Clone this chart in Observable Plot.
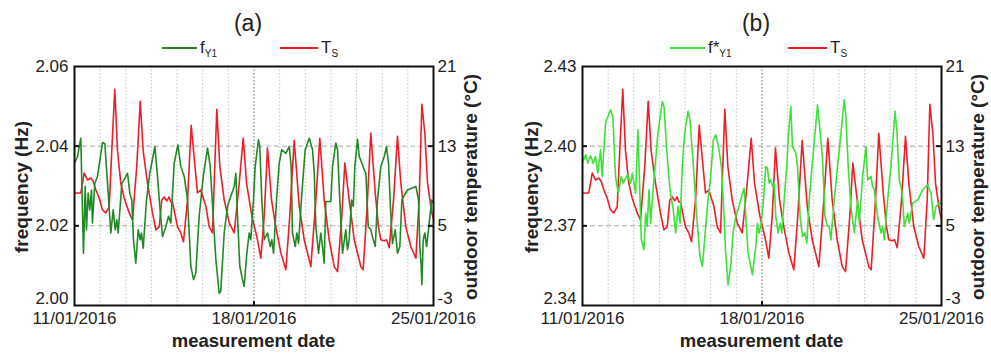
<!DOCTYPE html>
<html><head><meta charset="utf-8">
<script src="https://cdn.jsdelivr.net/npm/d3@7"></script>
<script src="https://cdn.jsdelivr.net/npm/@observablehq/plot@0.6"></script>
<style>
body{margin:0;background:#fff;font-family:"Liberation Sans",Arial,sans-serif;color:#222;}
#wrap{position:relative;width:991px;height:355px;overflow:hidden;background:#fff;}
.panel{position:absolute;top:0;height:355px;}
.ov{position:absolute;white-space:nowrap;line-height:1;}
.title{font-size:23px;transform:translate(-50%,-50%);}
.axt{font-size:18.5px;font-weight:bold;transform:translate(-50%,-50%);}
.axv{font-size:19px;font-weight:bold;transform:translate(-50%,-50%) rotate(-90deg);}
.lgl{position:absolute;height:2px;}
.lgt{position:absolute;font-size:17px;line-height:20px;white-space:nowrap;}
.lgt sub{font-size:10px;vertical-align:-4px;}
</style></head>
<body><div id="wrap"></div>
<script>
// ---------- data ----------
const xTickLabels = ["11/01/2016", "18/01/2016", "25/01/2016"];
const tempTicks = [-3, 5, 13, 21];
const freqTicksA = [2.00, 2.02, 2.04, 2.06];
const freqTicksB = [2.34, 2.37, 2.40, 2.43];

// [hours since 11/01/2016 00:00, outdoor temperature °C]
const tempTS = [[0,8.3],[5.9,8.3],[9.1,10.3],[12.2,9.6],[15.3,9.8],[17.5,9.45],[20,8.6],[23.1,7.8],[26.2,6.6],[29.3,6.3],[32.5,6.9],[34.9,12.6],[37.7,18.7],[40.2,12.6],[43.3,9.3],[46.5,7.8],[51.2,6.3],[54.3,5.6],[58.3,11],[61.5,17.5],[64.3,12.5],[68.3,9.3],[73,6.3],[76.1,4.6],[79.3,4.9],[81.7,7.6],[84,7.9],[86.4,7.5],[88.6,7.9],[90.1,7.4],[91.7,7.4],[96.4,4.9],[99.5,4.3],[102,3.4],[105.8,7.6],[109.2,15.1],[115.1,8.3],[118.2,8.6],[122.9,7],[126.1,4.9],[129.2,4.3],[131.3,11],[133.2,16.7],[136,11],[140.1,7.6],[144.8,5.3],[149.5,4.3],[154.2,9.3],[157.9,13.8],[161,9.3],[166,6],[171.3,3.6],[174.4,1.75],[177.6,6],[180.6,12.8],[184.4,7.6],[188.4,4.9],[193.1,2.3],[197.8,0.6],[201.5,6],[205.6,13.6],[210.3,7],[215,3.6],[221.2,0.9],[225.9,7.6],[229.6,13.8],[233.7,7.6],[238.4,3.6],[243.1,0.9],[246.2,0.4],[250.2,6],[253,11.3],[257.1,7.6],[261.8,3.6],[268,0.9],[270.2,0.6],[274.2,7.6],[277.3,14.3],[281.5,8.3],[284.5,4.9],[286.7,3.6],[289.9,3.5],[292,3.6],[294.6,2.8],[298.6,7.6],[302.3,14],[305.4,9.3],[310.1,4.9],[314.8,2.9],[319.5,1.75],[322.6,7.6],[325.1,17.2],[327.9,14.3],[330.4,9.3],[334.4,6.3],[336,5.7]];

// [hours, f_Y1 Hz]
const freqY1 = [[0,2.0357],[2.8,2.0374],[5.9,2.042],[8.4,2.0131],[10,2.0299],[11.2,2.019],[12.8,2.0282],[14.3,2.024],[15.9,2.029],[16.8,2.0207],[19,2.0307],[21.5,2.0324],[26.2,2.0409],[28.4,2.0406],[30.9,2.0307],[34,2.0182],[36.2,2.024],[38.1,2.019],[39.6,2.0215],[40.9,2.0182],[44.3,2.0307],[46.5,2.0316],[49.6,2.0332],[51.8,2.0282],[53.6,2.0265],[55.2,2.0165],[57.4,2.0106],[59.6,2.019],[61.5,2.0165],[62.7,2.0182],[64.3,2.0144],[67.4,2.0265],[70.5,2.0332],[75.2,2.0399],[77.7,2.0324],[79.8,2.0249],[82.4,2.0173],[85.5,2.0198],[88,2.0224],[90.1,2.0207],[93.3,2.0357],[96.7,2.0403],[99.5,2.0349],[102.7,2.0324],[105.8,2.0265],[108.9,2.0098],[111.4,2.0065],[113.5,2.0081],[116.7,2.0224],[120.5,2.0324],[124.5,2.0395],[127,2.0349],[129.8,2.0224],[132.3,2.0115],[135.4,2.0031],[136.9,2.0036],[140.1,2.0182],[143.2,2.0249],[146.3,2.0274],[149.5,2.0299],[151,2.0332],[152.6,2.0224],[154.7,2.0098],[157.2,2.0065],[158.8,2.0048],[161.3,2.0131],[163.5,2.0182],[165,2.0165],[167.5,2.0265],[169.1,2.0349],[172.2,2.0416],[173.4,2.0399],[175.3,2.0265],[177.6,2.0165],[180.6,2.0182],[183.2,2.0148],[184.7,2.0165],[186.3,2.0131],[189.1,2.0265],[191.6,2.0357],[194,2.0391],[197.8,2.0382],[201,2.0399],[202.8,2.0349],[204,2.0182],[206.6,2.0148],[208.1,2.0182],[209.7,2.0156],[212.8,2.0282],[215.9,2.0391],[219.7,2.042],[222.8,2.0391],[224.4,2.0332],[225.9,2.0198],[228.4,2.0131],[230.5,2.0182],[232.1,2.0148],[233.7,2.0106],[235.2,2.0261],[239.9,2.0261],[241.5,2.0349],[244.6,2.0408],[246.2,2.0391],[248.3,2.0265],[250.8,2.0131],[253.9,2.019],[255.5,2.014],[257.1,2.0165],[259.3,2.0265],[260.9,2.0249],[262.4,2.0349],[264.9,2.0418],[266.5,2.0374],[269,2.0357],[271.2,2.034],[272.7,2.0332],[274.9,2.0198],[277.3,2.019],[279.6,2.0165],[281.5,2.0148],[283.6,2.0265],[286.7,2.0349],[289.9,2.0374],[292,2.0399],[293.9,2.0357],[296.1,2.0224],[297.6,2.0156],[300.2,2.019],[302.3,2.0131],[304.5,2.0148],[306.4,2.0265],[311.7,2.029],[319.5,2.0299],[322,2.0265],[323.2,2.0148],[324.5,2.0098],[325.1,2.0052],[326.4,2.0165],[327.9,2.0182],[329.5,2.0148],[332,2.0207],[334.2,2.0265],[336,2.0257]];

// [hours, f*_Y1 Hz]
const freqY1star = [[0,2.3942],[3.1,2.3967],[5,2.3936],[7.5,2.3964],[10,2.3936],[12.2,2.3961],[14.4,2.3898],[16.9,2.3986],[18.4,2.3886],[21.6,2.4087],[26.3,2.4137],[28.4,2.4112],[30.9,2.3886],[33.4,2.3823],[36.3,2.3886],[38.1,2.3861],[41.9,2.3892],[45,2.3861],[46.6,2.3898],[49.7,2.3823],[51.9,2.4062],[55,2.365],[57.5,2.361],[59.1,2.3748],[60.6,2.3698],[62.2,2.3836],[63.8,2.371],[65.3,2.3798],[70.6,2.4049],[74.7,2.4168],[76.3,2.4149],[78.8,2.3986],[81.9,2.3836],[85,2.376],[87.2,2.3673],[89.4,2.3773],[91.3,2.371],[93.4,2.3924],[95.6,2.4049],[98.8,2.4131],[100.6,2.4099],[103.8,2.3924],[106.9,2.3735],[110,2.3585],[112.2,2.3547],[116.9,2.3773],[120,2.3886],[122.5,2.4024],[124.7,2.4043],[127.8,2.3986],[130,2.3924],[132.5,2.3735],[134,2.3597],[135.6,2.3509],[136.2,2.3478],[138.7,2.3547],[140.9,2.3673],[143.4,2.3735],[146.5,2.3773],[149.7,2.3823],[151.2,2.3842],[152.8,2.3735],[155,2.3597],[157.5,2.3547],[159,2.3516],[162.2,2.3622],[163.7,2.371],[165.3,2.3673],[166.9,2.3698],[169.4,2.3798],[171.5,2.3924],[173.1,2.3917],[174.7,2.3861],[176.2,2.3873],[177.8,2.3848],[179.4,2.3861],[180.9,2.3735],[183.1,2.3673],[185,2.371],[186.5,2.3673],[188.7,2.3798],[191.2,2.3924],[192.8,2.4049],[195,2.4149],[196.5,2.3999],[199.7,2.3974],[201.2,2.3924],[203.7,2.3735],[205.9,2.366],[208.1,2.3673],[210,2.3635],[212.2,2.3798],[216.2,2.3986],[220,2.4156],[222.5,2.4049],[224.7,2.3949],[226.9,2.3735],[229.4,2.3698],[230.9,2.3698],[232.5,2.3647],[235.6,2.3798],[238.7,2.3924],[241.9,2.4049],[245,2.4175],[246.5,2.4112],[248.7,2.3924],[251.2,2.3773],[254.4,2.3673],[257.5,2.3798],[259,2.371],[262.2,2.3886],[265.3,2.3999],[266.9,2.3873],[270,2.3886],[271.5,2.3848],[273.1,2.3836],[276.2,2.3735],[279.4,2.3673],[280.9,2.3698],[282.5,2.3647],[285.6,2.3798],[288.7,2.3924],[292.5,2.4131],[294.4,2.4049],[296.5,2.3873],[298.1,2.3848],[299.7,2.3798],[301.2,2.3698],[304.4,2.3748],[305.9,2.371],[309,2.3785],[313.7,2.3798],[318.4,2.3836],[323.1,2.3854],[326.2,2.3823],[328.7,2.3723],[330.9,2.3773],[334,2.3785],[336,2.3785]];

// ---------- helpers ----------
const T0 = Date.UTC(2016, 0, 11);
const toDate = h => new Date(T0 + h * 3600000);
const parseLbl = s => { const [d, m, y] = s.split("/").map(Number); return new Date(Date.UTC(y, m - 1, d)); };
const xTickDates = xTickLabels.map(parseLbl);
const xDomain = [xTickDates[0], xTickDates[xTickDates.length - 1]];
const dayLines = d3.utcDay.range(d3.utcDay.offset(xDomain[0], 1), xDomain[1]);
const RED = "#ec1f28";
const wrap = document.getElementById("wrap");

function addDiv(cls, left, top, html, extra) {
  const d = document.createElement("div");
  d.className = cls;
  d.style.left = left + "px"; d.style.top = top + "px";
  if (html != null) d.innerHTML = html;
  if (extra) Object.assign(d.style, extra);
  wrap.appendChild(d);
  return d;
}

function panel(o) {
  const H = 355, mt = 66, mb = 50;
  const innerW = o.width - o.ml - o.mr, innerH = H - mt - mb;
  const yD = [o.yTicks[0], o.yTicks[o.yTicks.length - 1]];
  const tD = [tempTicks[0], tempTicks[tempTicks.length - 1]];
  const toF = t => yD[0] + (t - tD[0]) / (tD[1] - tD[0]) * (yD[1] - yD[0]);
  const fromF = f => tD[0] + (f - yD[0]) / (yD[1] - yD[0]) * (tD[1] - tD[0]);
  const inner = o.yTicks.slice(1, -1);
  const tF = tempTicks.map(toF);
  const fmtL = d => d.toFixed(2);
  const fmtR = f => String(Math.round(fromF(f)));
  const svg = Plot.plot({
    width: o.width, height: H,
    marginLeft: o.ml, marginRight: o.mr, marginTop: mt, marginBottom: mb,
    style: {fontSize: "17px", fontFamily: "'Liberation Sans', Arial, sans-serif", color: "#222", background: "transparent", overflow: "visible"},
    x: {type: "utc", domain: xDomain},
    y: {domain: yD, nice: false},
    marks: [
      Plot.ruleX(dayLines, {x: d => d, stroke: "#c4c4c4", strokeWidth: 1, strokeDasharray: "1.5,2"}),
      Plot.ruleX([xTickDates[1]], {x: d => d, stroke: "#8a8a8a", strokeWidth: 1, strokeDasharray: "1.5,2"}),
      Plot.ruleY(inner, {y: d => d, stroke: "#a8a8a8", strokeWidth: 1, strokeDasharray: "5,3"}),
      Plot.line(tempTS, {x: d => toDate(d[0]), y: d => toF(d[1]), stroke: RED, strokeWidth: 1.6}),
      Plot.line(o.freq, {x: d => toDate(d[0]), y: d => d[1], stroke: o.color, strokeWidth: 1.6}),
      Plot.tickY(inner, {y: d => d, stroke: "#111", strokeWidth: 2, insetRight: innerW - 5}),
      Plot.tickY(inner, {y: d => d, stroke: "#111", strokeWidth: 2, insetLeft: innerW - 5}),
      Plot.tickX([xTickDates[1]], {x: d => d, stroke: "#111", strokeWidth: 2, insetTop: innerH - 4}),
      Plot.frame({stroke: "#111", strokeWidth: 2}),
      Plot.axisY({anchor: "left", ticks: o.yTicks.slice(1), tickFormat: fmtL, tickSize: 0, tickPadding: 6, label: null}),
      Plot.axisY({anchor: "left", ticks: o.yTicks.slice(0, 1), tickFormat: fmtL, tickSize: 0, tickPadding: 6, dy: -7, label: null}),
      Plot.axisY({anchor: "right", ticks: tF.slice(1), tickFormat: fmtR, tickSize: 0, tickPadding: 4, label: null}),
      Plot.axisY({anchor: "right", ticks: tF.slice(0, 1), tickFormat: fmtR, tickSize: 0, tickPadding: 4, dy: -7, label: null}),
      Plot.axisX({ticks: xTickDates, tickFormat: d3.utcFormat("%d/%m/%Y"), tickSize: 0, tickPadding: 6, label: null})
    ]
  });
  const holder = document.createElement("div");
  holder.className = "panel";
  holder.style.left = o.left + "px"; holder.style.width = o.width + "px";
  holder.appendChild(svg);
  wrap.appendChild(holder);

  const L = o.left;
  const cx = L + o.ml + innerW / 2;
  addDiv("ov title", o.titleX, 23, o.title);
  addDiv("ov axt", cx, 341, "measurement date");
  addDiv("ov axv", L + o.ylabX, 187, "frequency (Hz)");
  addDiv("ov axv", L + o.width - o.mr + o.tlabDX, 187, "outdoor temperature (°C)");
  addDiv("lgl", o.lg[0], 47, null, {width: (o.lg[1] - o.lg[0]) + "px", background: o.color});
  addDiv("lgt", o.lg[1] + 3, 38, o.fname);
  addDiv("lgl", o.lg[2], 47, null, {width: (o.lg[3] - o.lg[2]) + "px", background: RED});
  addDiv("lgt", o.lg[3] + 3, 38, "T<sub>S</sub>");
}

panel({left: 0, width: 495, ml: 74, mr: 62, yTicks: freqTicksA, freq: freqY1, color: "#1f8a24",
  title: "(a)", titleX: 248, ylabX: 21, tlabDX: 37, lg: [162, 197, 280, 318], fname: "f<sub>Y1</sub>"});
panel({left: 495, width: 496, ml: 87, mr: 50, yTicks: freqTicksB, freq: freqY1star, color: "#3ee03a",
  title: "(b)", titleX: 756, ylabX: 36, tlabDX: 36, lg: [670, 705, 788, 827], fname: "f*<sub>Y1</sub>"});
</script>
</body></html>
